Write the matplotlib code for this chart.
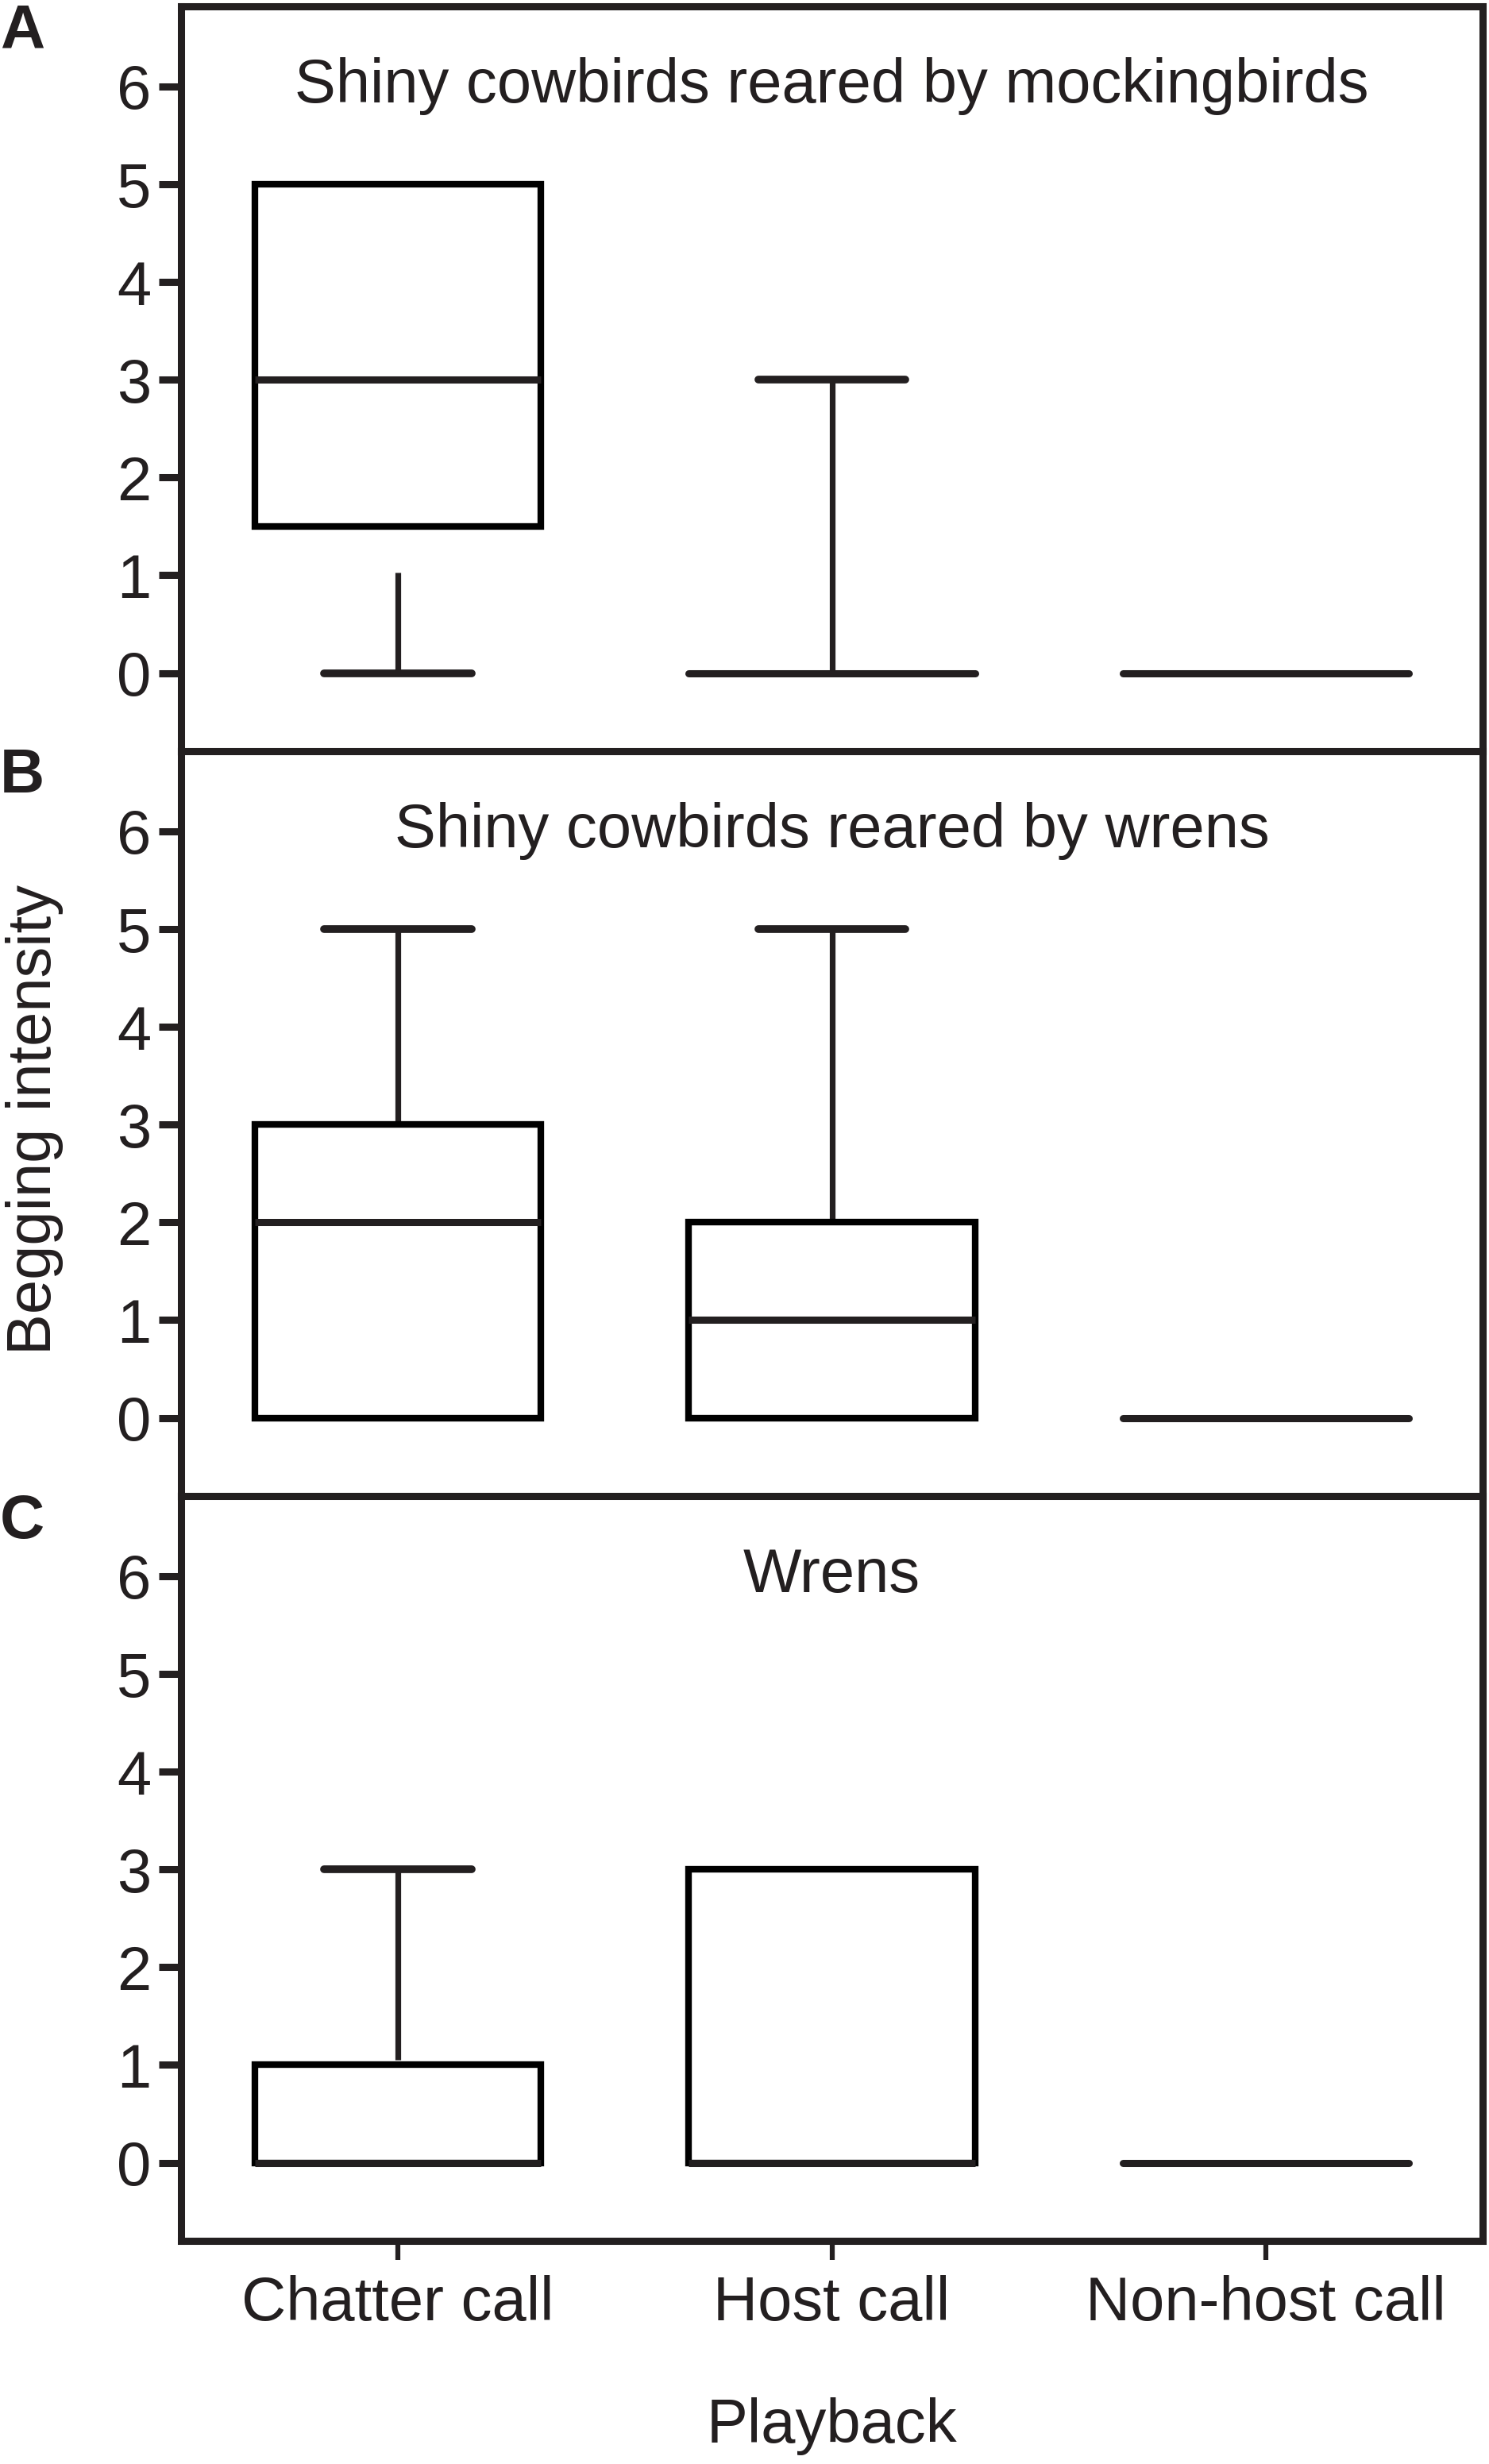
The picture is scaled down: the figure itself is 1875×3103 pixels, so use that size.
import matplotlib
matplotlib.use("Agg")
import matplotlib.pyplot as plt
from matplotlib.patches import Rectangle

plt.rcParams['font.family'] = ['Liberation Sans', 'DejaVu Sans']

categories = ["Chatter call", "Host call", "Non-host call"]
titles = ["Shiny cowbirds reared by mockingbirds",
          "Shiny cowbirds reared by wrens",
          "Wrens"]
letters = ["A", "B", "C"]

# box stats per panel: [chatter, host, non-host]
q1 = [[1.5, 0, 0], [0, 0, 0], [0, 0, 0]]
med = [[3, 0, 0], [2, 1, 0], [0, 0, 0]]
q3 = [[5, 0, 0], [3, 2, 0], [1, 3, 0]]
# upper whisker: (start, cap) or None
upper = [[None, (0, 3), None],
         [(3, 5), (2, 5), None],
         [(1.05, 3), None, None]]
# lower whisker: (cap, top) or None
lower = [[(0, 1.03), None, None],
         [None, None, None],
         [None, None, None]]

W, H = 1875, 3103
fig = plt.figure(figsize=(W / 100, H / 100), dpi=100)

left, right = 228 / W, 1867 / W
ax_h = 938 / H
bottom0 = 1 - 2822 / H

box_w = 0.66
cap_w = 0.34
fs = 56
ink = '#231f20'

for i in range(3):
    b = bottom0 + (2 - i) * ax_h
    ax = fig.add_axes([left, b, right - left, ax_h])
    ax.set_xlim(-0.5, 2.5)
    ax.set_ylim(-0.8, 6.82)
    for s in ax.spines.values():
        s.set_linewidth(6.5)
        s.set_color(ink)
    ax.set_yticks(range(7))
    ax.tick_params(axis='y', length=20, width=6.5, pad=7, labelsize=fs,
                   colors=ink)
    ax.set_xticks(range(3))
    ax.tick_params(axis='x', length=17, width=4.5, pad=14, labelsize=fs,
                   colors=ink)
    if i < 2:
        ax.set_xticklabels([])
    else:
        ax.set_xticklabels(categories)
        ax.set_xlabel("Playback", fontsize=fs, labelpad=58, color=ink)

    for j in range(3):
        lo, m, hi = q1[i][j], med[i][j], q3[i][j]
        if hi > lo:
            ax.add_patch(Rectangle((j - box_w / 2, lo), box_w, hi - lo,
                                   fill=False, lw=6.0, ec='black',
                                   joinstyle='miter', zorder=3))
        ax.hlines(m, j - box_w / 2, j + box_w / 2, lw=6.5, color=ink,
                  capstyle='round' if hi == lo else 'butt', zorder=4)
        if upper[i][j] is not None:
            s0, cap = upper[i][j]
            ax.vlines(j, s0, cap, lw=5.2, color=ink, zorder=2)
            ax.hlines(cap, j - cap_w / 2, j + cap_w / 2, lw=7,
                      color=ink, capstyle='round', zorder=3)
        if lower[i][j] is not None:
            cap, top = lower[i][j]
            ax.vlines(j, cap, top, lw=5.2, color=ink, zorder=2)
            ax.hlines(cap, j - cap_w / 2, j + cap_w / 2, lw=7,
                      color=ink, capstyle='round', zorder=3)

    ax.text(1, 6, titles[i], ha='center', va='center', fontsize=fs,
            color=ink)
    fig.text(28 / W, 1 - (40 + i * 938) / H, letters[i], ha='center',
             va='center', fontsize=fs, fontweight='bold', color=ink)

fig.text(44 / W, 1 - 1410 / H, "Begging intensity", rotation=90,
         ha='center', va='center', fontsize=fs, color=ink)

fig.savefig("out.png", dpi=100)
